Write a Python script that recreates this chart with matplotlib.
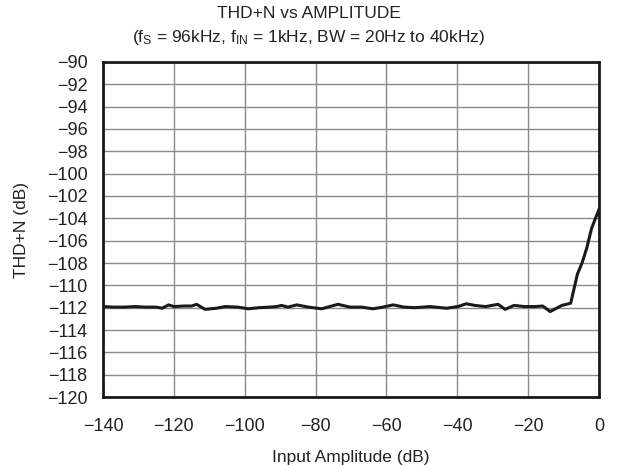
import matplotlib
matplotlib.use("Agg")

import matplotlib.pyplot as plt

# input amplitude (dB) and THD+N (dB)
amplitude = [-140, -137, -134, -131, -128, -125, -123.3, -121.5, -120, -117,
             -115, -113.6, -111.2, -108, -105.5, -102, -99, -96, -93, -91,
             -89.6, -87.8, -85.3, -82, -78.3, -73.7, -70.3, -67, -63.8, -61,
             -58.1, -55, -51.9, -47.7, -43, -39.8, -37.5, -35, -32, -28.5,
             -26.5, -24, -21, -18, -15.9, -13.8, -10.5, -8, -6.1, -4.8,
             -3.5, -2.1, -1, 0]
thdn = [-111.9, -111.95, -111.95, -111.9, -111.95, -111.95, -112.05, -111.75, -111.9, -111.85,
        -111.85, -111.7, -112.15, -112.05, -111.9, -111.95, -112.1, -112.0, -111.95, -111.9,
        -111.8, -111.95, -111.75, -111.95, -112.1, -111.7, -111.95, -111.95, -112.1, -111.95,
        -111.75, -111.95, -112.0, -111.9, -112.05, -111.9, -111.65, -111.8, -111.9, -111.7,
        -112.15, -111.8, -111.9, -111.9, -111.85, -112.35, -111.8, -111.6, -109.0, -108.0,
        -106.7, -104.9, -104.0, -103.2]

x_ticks = list(range(-140, 1, 20))
y_ticks = list(range(-120, -89, 2))

plt.rcParams["font.family"] = ["Liberation Sans", "DejaVu Sans"]
plt.rcParams["mathtext.fontset"] = "custom"
plt.rcParams["mathtext.rm"] = "Liberation Sans"

fig = plt.figure(figsize=(6.18, 4.65), dpi=100)
ax = fig.add_axes([0.1667, 0.1462, 0.8026, 0.7205])

ax.plot(amplitude, thdn, color="#1a1a1a", linewidth=2.2, solid_joinstyle="round")

ax.set_xlim(-140, 0)
ax.set_ylim(-120, -90)
ax.set_xticks(x_ticks)
ax.set_yticks(y_ticks)
ax.tick_params(length=0, labelsize=13, colors="#222222")
ax.tick_params(axis="x", pad=15)
ax.tick_params(axis="y", pad=11)
ax.grid(True, color="#8a8a8a", linewidth=1.0)
for s in ax.spines.values():
    s.set_linewidth(2.0)
    s.set_color("#1a1a1a")

ax.set_xlabel("Input Amplitude (dB)", fontsize=12.5, color="#222222", labelpad=11)
ax.set_ylabel("THD+N (dB)", fontsize=12.5, color="#222222", labelpad=13)

fig.text(0.5, 0.988, "THD+N vs AMPLITUDE", ha="center", va="top", fontsize=12.5, color="#222222")
fig.text(0.5, 0.94, r"(f$\mathregular{_S}$ = 96kHz, f$\mathregular{_{IN}}$ = 1kHz, BW = 20Hz to 40kHz)",
         ha="center", va="top", fontsize=12.5, color="#222222")

plt.savefig("out.png", dpi=100)
plt.close(fig)
